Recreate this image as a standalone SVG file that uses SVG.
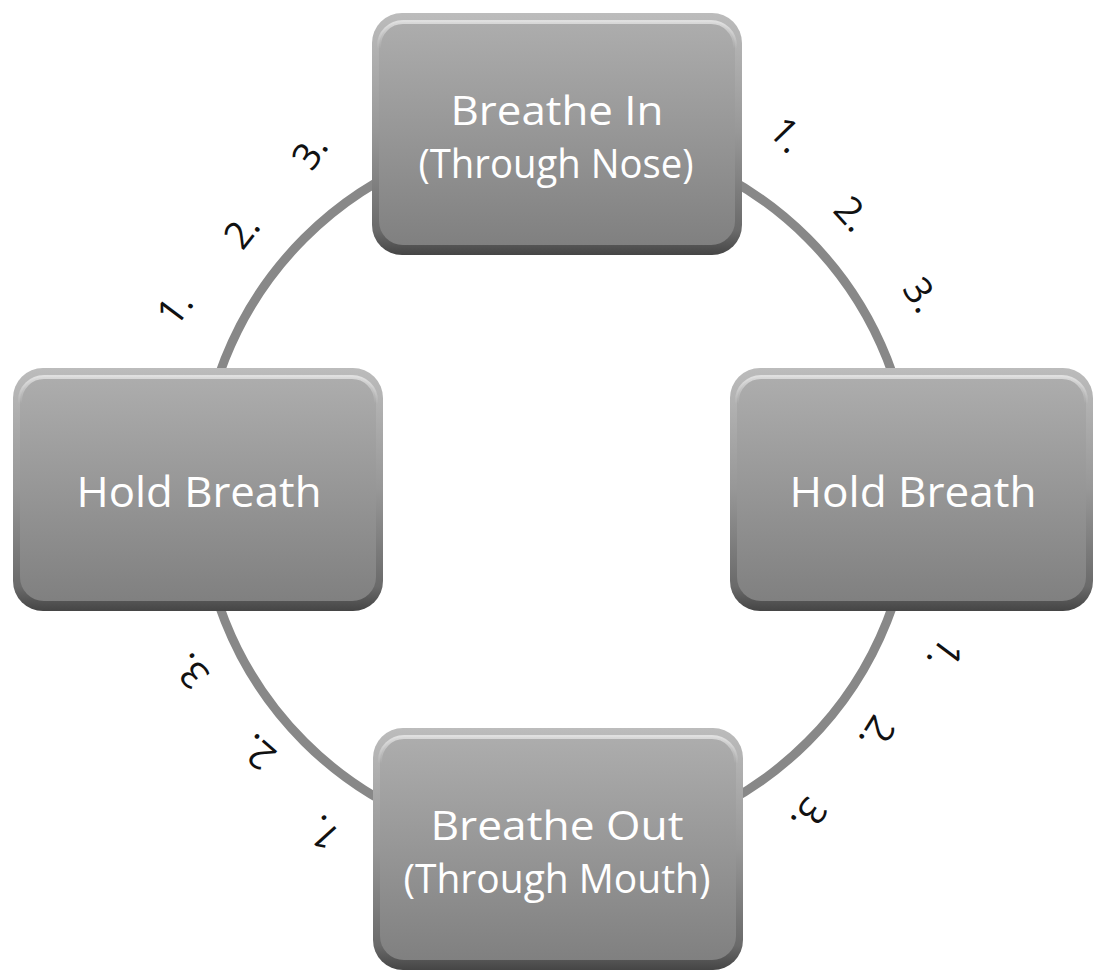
<svg xmlns="http://www.w3.org/2000/svg" width="1096" height="971" viewBox="0 0 1096 971">
<style>
.rim{fill:url(#rim)}
.face{fill:url(#face);stroke:url(#hl);stroke-width:4}
.t{font-family:"Open Sans","Noto Sans","Liberation Sans",sans-serif;fill:#ffffff;text-anchor:middle}
.n{font-family:"Open Sans","Noto Sans","Liberation Sans",sans-serif;fill:#111111;text-anchor:middle;font-size:38px}
.ring{fill:none;stroke:#888888;stroke-width:9}
</style>
<defs>
<linearGradient id="rim" x1="0" y1="0" x2="0" y2="1">
<stop offset="0" stop-color="#bcbcbc"/>
<stop offset="0.5" stop-color="#979797"/>
<stop offset="0.9" stop-color="#6a6a6a"/>
<stop offset="1" stop-color="#454545"/>
</linearGradient>
<linearGradient id="face" x1="0" y1="0" x2="0" y2="1">
<stop offset="0" stop-color="#adadad"/>
<stop offset="1" stop-color="#808080"/>
</linearGradient>
<linearGradient id="hl" x1="0" y1="0" x2="0" y2="1">
<stop offset="0" stop-color="#ffffff" stop-opacity="0.55"/>
<stop offset="0.12" stop-color="#ffffff" stop-opacity="0"/>
<stop offset="1" stop-color="#ffffff" stop-opacity="0"/>
</linearGradient>
</defs>
<rect width="1096" height="971" fill="#ffffff"/>
<g id="connectors">
<circle class="ring" cx="556" cy="490" r="356"/>
</g>
<g id="labels">
<text class="n" transform="translate(175,308) rotate(-53)" y="13">1.</text>
<text class="n" transform="translate(242,231) rotate(-52)" y="13">2.</text>
<text class="n" transform="translate(310,152) rotate(-56)" y="13">3.</text>
<text class="n" transform="translate(787,135) rotate(46)" y="13">1.</text>
<text class="n" transform="translate(852,214) rotate(48)" y="13">2.</text>
<text class="n" transform="translate(921,295) rotate(56)" y="13">3.</text>
<text class="n" transform="translate(945,655) rotate(127)" y="13">1.</text>
<text class="n" transform="translate(877,733) rotate(122)" y="13">2.</text>
<text class="n" transform="translate(809,815) rotate(125)" y="13">3.</text>
<text class="n" transform="translate(323,833) rotate(228)" y="13">1.</text>
<text class="n" transform="translate(258,752) rotate(221)" y="13">2.</text>
<text class="n" transform="translate(191,671) rotate(228)" y="13">3.</text>
</g>
<g id="node-breathe-in">
<rect class="rim" x="372" y="13" width="370" height="242" rx="30"/>
<rect class="face" x="379" y="22" width="356" height="223" rx="24"/>
<text class="t" x="557" y="125" font-size="40" textLength="213" lengthAdjust="spacingAndGlyphs">Breathe In</text>
<text class="t" x="556" y="178" font-size="40" textLength="275" lengthAdjust="spacingAndGlyphs">(Through Nose)</text>
</g>
<g id="node-hold-left">
<rect class="rim" x="13" y="368" width="370" height="243" rx="30"/>
<rect class="face" x="20" y="377" width="356" height="224" rx="24"/>
<text class="t" x="199" y="507" font-size="42" textLength="245" lengthAdjust="spacingAndGlyphs">Hold Breath</text>
</g>
<g id="node-hold-right">
<rect class="rim" x="730" y="368" width="363" height="243" rx="30"/>
<rect class="face" x="737" y="377" width="349" height="224" rx="24"/>
<text class="t" x="913" y="507" font-size="42" textLength="247" lengthAdjust="spacingAndGlyphs">Hold Breath</text>
</g>
<g id="node-breathe-out">
<rect class="rim" x="373" y="728" width="370" height="242" rx="30"/>
<rect class="face" x="380" y="737" width="356" height="223" rx="24"/>
<text class="t" x="557" y="840" font-size="40" textLength="253" lengthAdjust="spacingAndGlyphs">Breathe Out</text>
<text class="t" x="557" y="893" font-size="40" textLength="307" lengthAdjust="spacingAndGlyphs">(Through Mouth)</text>
</g>
</svg>
